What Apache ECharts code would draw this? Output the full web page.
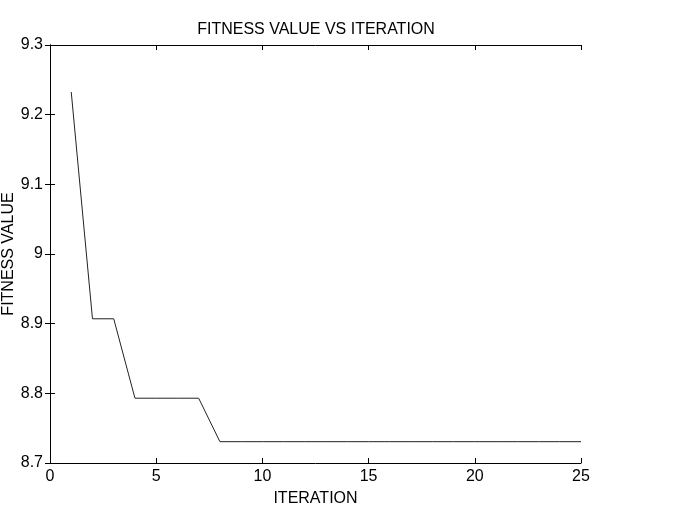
<!DOCTYPE html>
<html><head><meta charset="utf-8">
<script src="https://cdn.jsdelivr.net/npm/echarts@6/dist/echarts.min.js"></script>
<style>html,body{margin:0;padding:0;background:#fff}#c{width:677px;height:510px}</style>
</head><body><div id="c"></div>
<script>
const iterations = [1,2,3,4,5,6,7,8,9,10,11,12,13,14,15,16,17,18,19,20,21,22,23,24,25];
const fitness = [9.2325,8.907,8.907,8.793,8.793,8.793,8.793,8.7306,8.7306,8.7306,8.7306,8.7306,8.7306,8.7306,8.7306,8.7306,8.7306,8.7306,8.7306,8.7306,8.7306,8.7306,8.7306,8.7306,8.7306];
const titleText = 'FITNESS VALUE VS ITERATION';
const xName = 'ITERATION';
const yName = 'FITNESS VALUE';
const F = 'Liberation Sans, Arial, sans-serif';
const chart = echarts.init(document.getElementById('c'));
const axLine = {show:true, lineStyle:{color:'#000', width:1}};
const tick = {show:true, inside:true, length:5, lineStyle:{color:'#000'}};
chart.setOption({
  animation:false,
  title:{text:titleText, left:311, top:17, textAlign:'center', textStyle:{fontFamily:F, fontSize:16, fontWeight:'normal', color:'#000'}},
  grid:{left:50, right:96, top:45, bottom:47, containLabel:false, outerBoundsMode:'none'},
  xAxis:[
    {type:'value', min:0, max:25, interval:5, position:'bottom', name:xName, nameLocation:'middle', nameGap:28, nameMoveOverlap:false,
     nameTextStyle:{fontFamily:F, fontSize:16, color:'#000'},
     axisLine:axLine, axisTick:tick, splitLine:{show:false},
     axisLabel:{fontFamily:F, fontSize:16, color:'#000', margin:6}},
    {type:'value', min:0, max:25, interval:5, position:'top', axisLine:axLine, axisTick:tick, splitLine:{show:false}, axisLabel:{show:false}}
  ],
  yAxis:[
    {type:'value', min:8.7, max:9.3, interval:0.1, position:'left', name:yName, nameLocation:'middle', nameGap:33, nameMoveOverlap:false,
     nameTextStyle:{fontFamily:F, fontSize:16, color:'#000'},
     axisLine:axLine, axisTick:tick, splitLine:{show:false},
     axisLabel:{fontFamily:F, fontSize:16, color:'#000', margin:7, formatter:v=>String(+v.toFixed(1))}},
    {type:'value', min:8.7, max:9.3, interval:0.1, position:'right', axisLine:axLine, axisTick:tick, splitLine:{show:false}, axisLabel:{show:false}}
  ],
  series:[{type:'line', data:iterations.map((x,i)=>[x,fitness[i]]), showSymbol:false, symbol:'none',
    lineStyle:{color:'#222', width:1}}]
});
</script></body></html>
